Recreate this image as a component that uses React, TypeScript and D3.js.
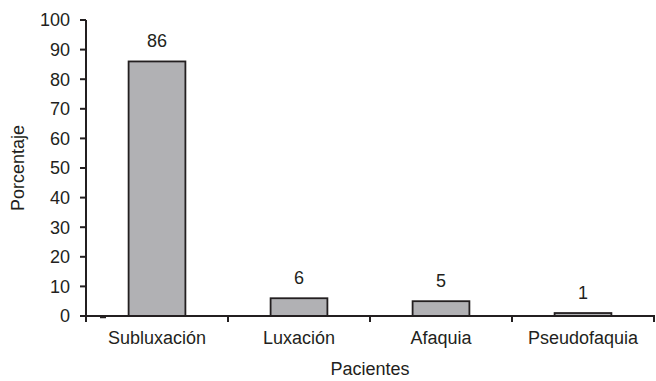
import React from "react";
import * as d3 from "d3";

const categories = ["Subluxación", "Luxación", "Afaquia", "Pseudofaquia"];
const values = [86, 6, 5, 1];
const yTicks = [0, 10, 20, 30, 40, 50, 60, 70, 80, 90, 100];
const yTitle = "Porcentaje";
const xTitle = "Pacientes";

const W = 656;
const H = 381;
const left = 86;
const right = 654;
const top = 20;
const bottom = 316;
const ink = "#231f20";
const font = "'Liberation Sans', Arial, Helvetica, sans-serif";
const fs = 18;

export default function App() {
  const y = d3.scaleLinear().domain([0, 100]).range([bottom, top]);
  const x = d3
    .scaleBand<string>()
    .domain(categories)
    .range([left, right])
    .paddingInner(0.6)
    .paddingOuter(0.3);
  const step = x.step();
  const xTickPos = categories.map((_, i) => left + (i + 1) * step);

  return (
    <svg
      width={W}
      height={H}
      style={{ position: "absolute", left: 0, top: 0, background: "#fff" }}
      fontFamily={font}
    >
      <rect x={0} y={0} width={W} height={H} fill="#fff" />
      {categories.map((c, i) => (
        <g key={c}>
          <rect
            x={x(c)}
            y={y(values[i])}
            width={x.bandwidth()}
            height={bottom - y(values[i])}
            fill="#b1b1b4"
            stroke={ink}
            strokeWidth={1.8}
          />
          <text
            x={(x(c) as number) + x.bandwidth() / 2}
            y={y(values[i]) - 14}
            textAnchor="middle"
            fontSize={fs}
            fill={ink}
          >
            {values[i]}
          </text>
          <text
            x={(x(c) as number) + x.bandwidth() / 2}
            y={344}
            textAnchor="middle"
            fontSize={fs}
            fill={ink}
          >
            {c}
          </text>
        </g>
      ))}
      <line x1={left} x2={left} y1={top} y2={bottom + 6} stroke={ink} strokeWidth={2} />
      {yTicks.map((t) => (
        <g key={t}>
          <line x1={left - 6} x2={left} y1={y(t)} y2={y(t)} stroke={ink} strokeWidth={2} />
          <text
            x={left - 16}
            y={y(t)}
            dy="0.36em"
            textAnchor="end"
            fontSize={fs}
            fill={ink}
          >
            {t}
          </text>
        </g>
      ))}
      <line x1={left - 6} x2={right + 1} y1={bottom} y2={bottom} stroke={ink} strokeWidth={2} />
      <line x1={100} x2={106} y1={bottom + 1.5} y2={bottom + 1.5} stroke={ink} strokeWidth={1.5} />
      {xTickPos.map((p, i) => (
        <line key={i} x1={p} x2={p} y1={bottom} y2={bottom + 6} stroke={ink} strokeWidth={2} />
      ))}
      <text
        transform={`translate(24,${(top + bottom) / 2}) rotate(-90)`}
        textAnchor="middle"
        fontSize={fs}
        fill={ink}
      >
        {yTitle}
      </text>
      <text x={(left + right) / 2} y={375} textAnchor="middle" fontSize={fs} fill={ink}>
        {xTitle}
      </text>
    </svg>
  );
}
